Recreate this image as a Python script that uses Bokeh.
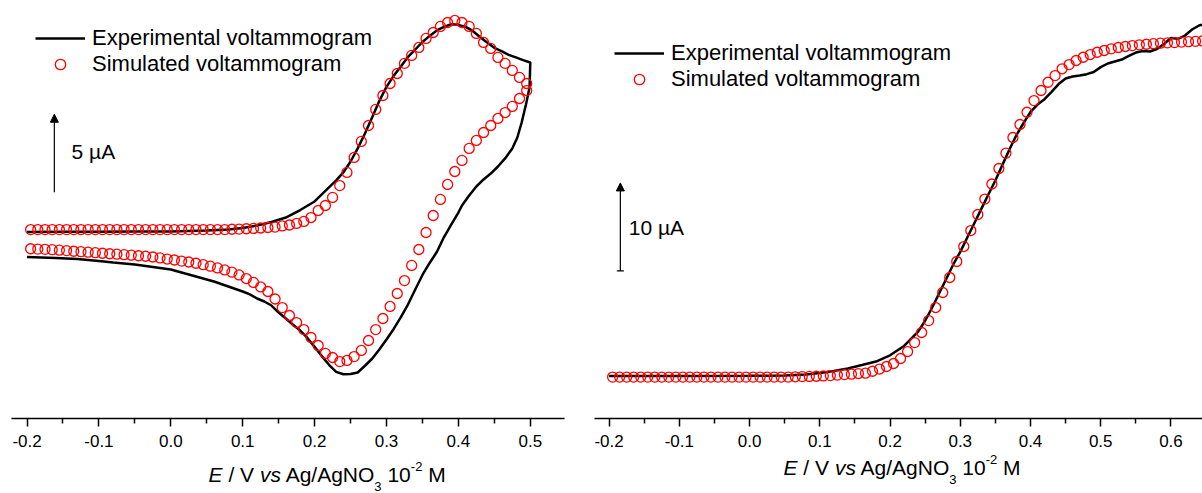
from bokeh.plotting import figure
from bokeh.layouts import row, column
from bokeh.models import (Range1d, FixedTicker, NumeralTickFormatter, Legend, LegendItem,
                          Label, Arrow, NormalHead, TeeHead, Div)
from bokeh.embed import file_html
from bokeh.resources import INLINE

FONT = "Liberation Sans"

# ---------------- Left panel: cyclic voltammogram ----------------
cv_exp_E = [-0.20, -0.15, -0.10, -0.05, 0.00, 0.05, 0.08, 0.10, 0.12, 0.14,
            0.16, 0.18, 0.20, 0.22, 0.23, 0.24, 0.25, 0.26, 0.27, 0.28,
            0.29, 0.30, 0.31, 0.32, 0.33, 0.34, 0.35, 0.36, 0.37, 0.38,
            0.39, 0.40, 0.41, 0.42, 0.43, 0.44, 0.45, 0.46, 0.47, 0.48,
            0.49, 0.50,
            0.499, 0.494, 0.488, 0.482, 0.475, 0.465, 0.455, 0.445, 0.435, 0.425,
            0.415, 0.405, 0.40, 0.39, 0.38, 0.37, 0.36, 0.35, 0.34, 0.33,
            0.32, 0.31, 0.30, 0.29, 0.28, 0.27, 0.26, 0.25, 0.24, 0.23,
            0.22, 0.21, 0.20, 0.19, 0.18, 0.17, 0.16, 0.15, 0.14, 0.13,
            0.12, 0.11, 0.10, 0.08, 0.06, 0.04, 0.02, 0.00, -0.02, -0.05,
            -0.08, -0.10, -0.13, -0.16, -0.20]
cv_exp_I = [-0.10, -0.08, -0.08, -0.06, -0.06, 0.00, 0.06, 0.16, 0.32, 0.54,
            0.83, 1.31, 1.86, 2.76, 3.21, 3.72, 4.42, 5.26, 6.22, 7.24,
            8.30, 9.20, 9.91, 10.51, 11.13, 11.60, 12.08, 12.47, 12.82, 13.05,
            13.22, 13.18, 13.05, 12.79, 12.40, 12.05, 11.71, 11.49, 11.26, 11.09,
            10.92, 10.77,
            9.17, 8.08, 6.92, 5.96, 5.26, 4.62, 4.10, 3.65, 3.27, 2.82,
            2.24, 1.60, 1.15, 0.38, -0.42, -1.38, -2.08, -2.85, -3.78, -4.73,
            -5.55, -6.31, -6.99, -7.63, -8.22, -8.67, -9.10, -9.20, -9.21, -9.06,
            -8.61, -8.05, -7.46, -6.89, -6.41, -6.04, -5.64, -5.26, -4.81, -4.55,
            -4.36, -4.10, -3.91, -3.59, -3.27, -3.01, -2.76, -2.50, -2.37, -2.18,
            -2.05, -1.96, -1.83, -1.76, -1.70]

cv_sim_E_fwd = [-0.195, -0.185, -0.175, -0.165, -0.155, -0.145, -0.135, -0.125, -0.115, -0.105,
                -0.095, -0.085, -0.075, -0.065, -0.055, -0.045, -0.035, -0.025, -0.015, -0.005,
                0.005, 0.015, 0.025, 0.035, 0.045, 0.055, 0.065, 0.075, 0.085, 0.095,
                0.105, 0.115, 0.125, 0.135, 0.145, 0.155, 0.165, 0.175, 0.185, 0.195,
                0.205, 0.215, 0.225, 0.235, 0.245, 0.255, 0.265, 0.275, 0.285, 0.295,
                0.305, 0.315, 0.325, 0.335, 0.345, 0.355, 0.365, 0.375, 0.385, 0.395,
                0.405, 0.415, 0.425, 0.435, 0.445, 0.455, 0.465, 0.475, 0.485, 0.495]
cv_sim_I_fwd = [0.06, 0.06, 0.06, 0.06, 0.06, 0.06, 0.06, 0.06, 0.06, 0.06,
                0.06, 0.06, 0.06, 0.06, 0.06, 0.06, 0.06, 0.06, 0.06, 0.06,
                0.06, 0.06, 0.06, 0.06, 0.06, 0.06, 0.06, 0.06, 0.08, 0.09,
                0.11, 0.13, 0.16, 0.19, 0.22, 0.29, 0.35, 0.45, 0.58, 0.83,
                1.28, 1.60, 2.12, 2.88, 3.72, 4.68, 5.71, 6.73, 7.76, 8.65,
                9.42, 10.06, 10.71, 11.22, 11.73, 12.31, 12.69, 13.08, 13.33, 13.46,
                13.33, 13.08, 12.63, 12.05, 11.67, 11.09, 10.71, 10.26, 9.81, 9.42]
cv_sim_E_rev = [0.495, 0.485, 0.475, 0.465, 0.455, 0.445, 0.435, 0.425, 0.415, 0.405,
                0.395, 0.385, 0.375, 0.365, 0.355, 0.345, 0.335, 0.325, 0.315, 0.305,
                0.295, 0.285, 0.275, 0.265, 0.255, 0.245, 0.235, 0.225, 0.215, 0.205,
                0.195, 0.185, 0.175, 0.165, 0.155, 0.145, 0.135, 0.125, 0.115, 0.105,
                0.095, 0.085, 0.075, 0.065, 0.055, 0.045, 0.035, 0.025, 0.015, 0.005,
                -0.005, -0.015, -0.025, -0.035, -0.045, -0.055, -0.065, -0.075, -0.085, -0.095,
                -0.105, -0.115, -0.125, -0.135, -0.145, -0.155, -0.165, -0.175, -0.185, -0.195]
cv_sim_I_rev = [8.97, 8.46, 7.95, 7.56, 7.18, 6.73, 6.28, 5.77, 5.26, 4.49,
                3.78, 2.95, 1.99, 0.96, -0.13, -1.22, -2.24, -3.21, -4.04, -4.87,
                -5.64, -6.35, -7.05, -7.69, -8.08, -8.33, -8.40, -8.14, -7.88, -7.37,
                -6.86, -6.35, -5.90, -5.45, -4.94, -4.39, -3.91, -3.62, -3.33, -3.08,
                -2.85, -2.67, -2.53, -2.40, -2.29, -2.19, -2.10, -2.02, -1.96, -1.89,
                -1.83, -1.76, -1.70, -1.65, -1.62, -1.58, -1.55, -1.52, -1.49, -1.46,
                -1.42, -1.39, -1.36, -1.33, -1.29, -1.26, -1.23, -1.21, -1.19, -1.17]

# ---------------- Right panel: steady-state voltammogram ----------------
ss_exp_E = [-0.20, -0.10, 0.00, 0.05, 0.08, 0.10, 0.12, 0.14, 0.16, 0.18,
            0.20, 0.22, 0.24, 0.25, 0.26, 0.27, 0.28, 0.29, 0.30, 0.31,
            0.32, 0.33, 0.34, 0.35, 0.36, 0.37, 0.38, 0.39, 0.40, 0.41,
            0.42, 0.43, 0.44, 0.45, 0.46, 0.47, 0.48, 0.49, 0.50, 0.51,
            0.52, 0.53, 0.54, 0.55, 0.56, 0.57, 0.58, 0.59, 0.60, 0.61,
            0.62, 0.63, 0.64, 0.65]
ss_exp_I = [0.06, 0.06, 0.08, 0.11, 0.23, 0.40, 0.63, 0.91, 1.30, 1.70,
            2.41, 3.47, 5.11, 6.34, 7.84, 9.47, 11.09, 12.73, 14.17, 15.80,
            17.42, 19.05, 20.68, 22.27, 24.05, 25.80, 27.44, 28.78, 30.07, 30.91,
            31.52, 32.34, 33.23, 33.86, 34.09, 34.20, 34.36, 34.60, 35.16, 35.57,
            35.80, 36.02, 36.44, 36.82, 36.99, 36.93, 37.22, 37.78, 38.47, 38.38,
            38.75, 39.43, 39.89, 40.11]

ss_sim_E = [-0.195, -0.185, -0.175, -0.165, -0.155, -0.145, -0.135, -0.125, -0.115, -0.105,
            -0.095, -0.085, -0.075, -0.065, -0.055, -0.045, -0.035, -0.025, -0.015, -0.005,
            0.005, 0.015, 0.025, 0.035, 0.045, 0.055, 0.065, 0.075, 0.085, 0.095,
            0.105, 0.115, 0.125, 0.135, 0.145, 0.155, 0.165, 0.175, 0.185, 0.195,
            0.205, 0.215, 0.225, 0.235, 0.245, 0.255, 0.265, 0.275, 0.285, 0.295,
            0.305, 0.315, 0.325, 0.335, 0.345, 0.355, 0.365, 0.375, 0.385, 0.395,
            0.405, 0.415, 0.425, 0.435, 0.445, 0.455, 0.465, 0.475, 0.485, 0.495,
            0.505, 0.515, 0.525, 0.535, 0.545, 0.555, 0.565, 0.575, 0.585, 0.595,
            0.605, 0.615, 0.625, 0.635, 0.645]
ss_sim_I = [-0.06, -0.06, -0.06, -0.06, -0.06, -0.06, -0.06, -0.06, -0.06, -0.06,
            -0.06, -0.06, -0.06, -0.06, -0.06, -0.06, -0.06, -0.06, -0.06, -0.06,
            -0.06, -0.06, -0.06, -0.06, -0.06, -0.06, -0.03, -0.01, 0.01, 0.03,
            0.07, 0.11, 0.16, 0.22, 0.27, 0.34, 0.38, 0.60, 0.85, 1.14,
            1.48, 2.05, 2.84, 3.86, 5.00, 6.36, 7.84, 9.55, 11.25, 13.07,
            14.77, 16.59, 18.41, 20.17, 21.88, 23.64, 25.38, 27.16, 28.64, 30.03,
            31.36, 32.50, 33.44, 34.20, 34.97, 35.45, 35.91, 36.28, 36.59, 36.85,
            37.05, 37.24, 37.39, 37.50, 37.61, 37.69, 37.76, 37.82, 37.88, 37.92,
            37.95, 38.00, 38.05, 38.09, 38.14]

tick_values_left = [-0.2, -0.1, 0.0, 0.1, 0.2, 0.3, 0.4, 0.5]
minor_values_left = [-0.15, -0.05, 0.05, 0.15, 0.25, 0.35, 0.45]
tick_values_right = [-0.2, -0.1, 0.0, 0.1, 0.2, 0.3, 0.4, 0.5, 0.6]
minor_values_right = [-0.15, -0.05, 0.05, 0.15, 0.25, 0.35, 0.45, 0.55]

legend_labels = ["Experimental voltammogram", "Simulated voltammogram"]
x_title_html = ("<i>E</i> / V <i>vs</i> Ag/AgNO"
                "<span style=\"position:relative; top:8.7px; font-size:13px\">3</span> 10"
                "<span style=\"position:relative; top:-11px; font-size:13px\">-2</span> M")

# scale bars (x position in V, current span in µA)
left_bar = dict(x=-0.162, y0=2.45, y1=7.45, text="5 µA", tx=-0.138, ty=5.06)
right_bar = dict(x=-0.184, y0=12.0, y1=22.0, text="10 µA", tx=-0.172, ty=16.97)

PLOT_H = 455
TITLE_H = 493 - PLOT_H


def make_fig(width, bl, br, xr, yr, ticks, minors):
    p = figure(width=width, height=PLOT_H, x_range=Range1d(*xr), y_range=Range1d(*yr),
               y_axis_location=None, toolbar_location=None, output_backend="svg",
               min_border_left=bl, min_border_right=br, min_border_top=0,
               min_border_bottom=PLOT_H - 418)
    p.outline_line_color = None
    p.grid.visible = False
    ax = p.xaxis[0]
    ax.ticker = FixedTicker(ticks=ticks, minor_ticks=minors)
    ax.formatter = NumeralTickFormatter(format="0.0")
    ax.axis_label = None
    ax.axis_line_width = 1.5
    ax.axis_line_color = "black"
    ax.major_tick_line_width = 1.5
    ax.minor_tick_line_width = 1.5
    ax.major_tick_line_color = "black"
    ax.minor_tick_line_color = "black"
    ax.major_tick_in = 0
    ax.major_tick_out = 8
    ax.minor_tick_in = 0
    ax.minor_tick_out = 5
    ax.major_label_standoff = 8
    ax.major_label_text_font = FONT
    ax.major_label_text_font_size = "17px"
    ax.major_label_text_color = "black"
    return p


def title_div(width, left, top):
    html = ("<div style=\"position:relative; left:%.1fpx; top:%.1fpx; "
            "font-family:'Liberation Sans'; font-size:21px; line-height:21px; "
            "white-space:nowrap; color:black\">%s</div>" % (left, top, x_title_html))
    return Div(text=html, width=width, height=TITLE_H, margin=0)


def add_legend(p, r_line, r_sc, loc):
    lg = Legend(items=[LegendItem(label=legend_labels[0], renderers=[r_line]),
                       LegendItem(label=legend_labels[1], renderers=[r_sc])],
                location=loc, orientation="vertical", padding=0, spacing=0, margin=0,
                glyph_width=50, glyph_height=26, label_height=26, label_standoff=7,
                label_text_font=FONT, label_text_font_size="22px",
                label_text_color="black", border_line_color=None,
                background_fill_alpha=0)
    p.add_layout(lg)


def add_bar(p, bar, tee):
    kw = dict(end=NormalHead(size=8, fill_color="black", line_color="black", line_width=1),
              x_start=bar["x"], y_start=bar["y0"], x_end=bar["x"], y_end=bar["y1"],
              line_color="black", line_width=1.2)
    if tee:
        kw["start"] = TeeHead(size=7, line_color="black", line_width=1.2)
    p.add_layout(Arrow(**kw))
    p.add_layout(Label(x=bar["tx"], y=bar["ty"], text=bar["text"], text_font=FONT,
                       text_font_size="21px", text_baseline="middle", text_align="left",
                       text_color="black"))


# Left figure
p1 = make_fig(580, 11, 16, (-0.2216, 0.5476), (-12.05, 14.74),
              tick_values_left, minor_values_left)
l1 = p1.line(cv_exp_E, cv_exp_I, line_color="black", line_width=2.5)
s1 = p1.scatter(cv_sim_E_fwd + cv_sim_E_rev, cv_sim_I_fwd + cv_sim_I_rev, marker="circle",
                size=10, fill_color=None, line_color="#ff0000", line_width=1.3)
add_legend(p1, l1, s1, (24, 341))
add_bar(p1, left_bar, False)
d1 = title_div(580, 208.6, 9.2)

# Right figure
p2 = make_fig(622, 14, 0, (-0.2208, 0.6449), (-4.77, 42.73),
              tick_values_right, minor_values_right)
l2 = p2.line(ss_exp_E, ss_exp_I, line_color="black", line_width=2.5)
s2 = p2.scatter(ss_sim_E, ss_sim_I, marker="circle", size=10, fill_color=None,
                line_color="#ff0000", line_width=1.3)
add_legend(p2, l2, s2, (20, 326))
add_bar(p2, right_bar, True)
d2 = title_div(622, 203.5, 2.2)

layout = row(column(p1, d1, spacing=0), column(p2, d2, spacing=0), spacing=0)
open("out.html", "w").write(file_html(layout, INLINE))
